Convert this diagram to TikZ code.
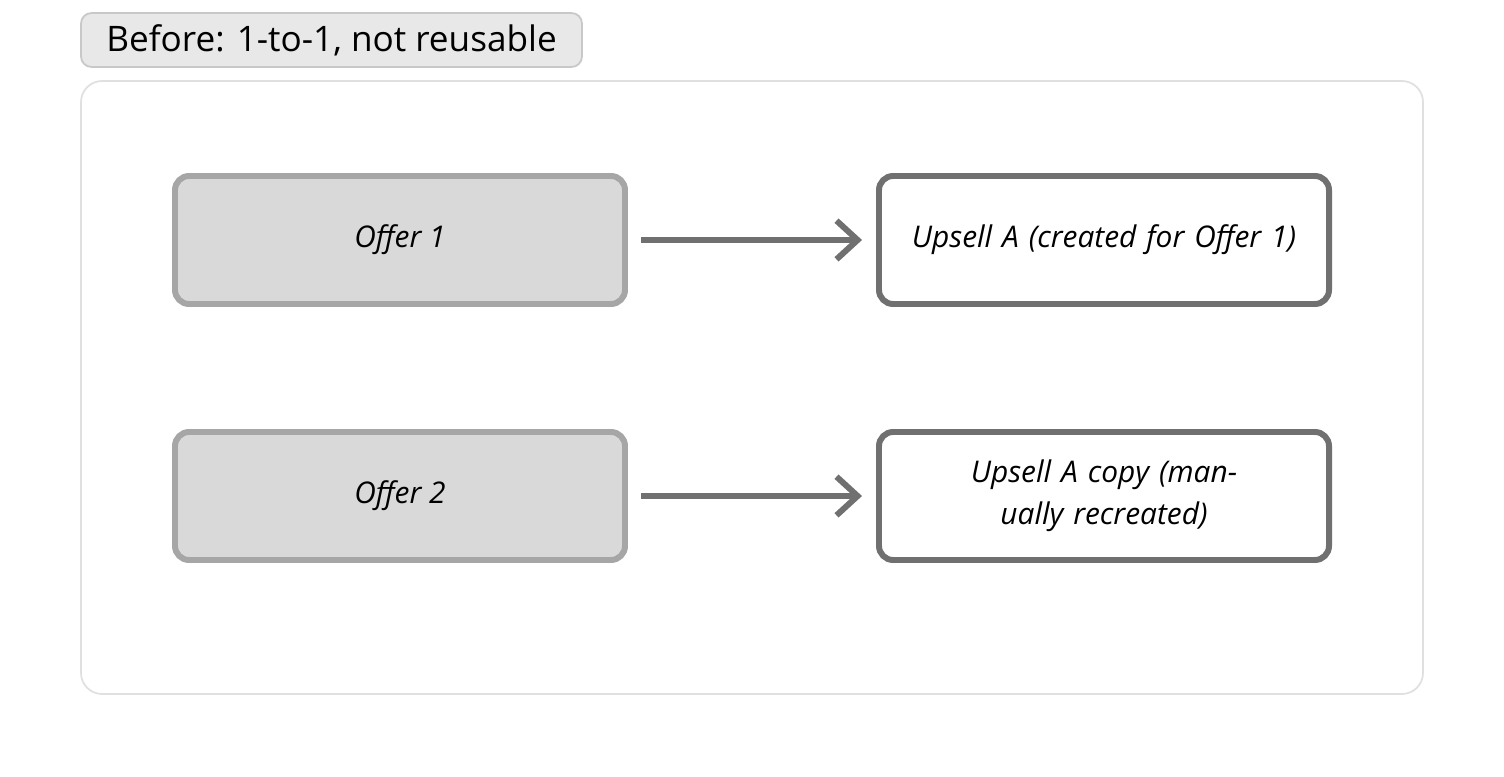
\documentclass[tikz,border=0pt]{standalone}
\usepackage{fontspec}
\setmainfont{Open Sans}
\usetikzlibrary{arrows.meta}
\definecolor{boxfill}{HTML}{D9D9D9}
\definecolor{boxline}{HTML}{A6A6A6}
\definecolor{darkline}{HTML}{707070}
\definecolor{framegray}{HTML}{E0E0E0}
\definecolor{tagfill}{HTML}{E8E8E8}
\definecolor{tagline}{HTML}{C8C8C8}

\begin{document}
\begin{tikzpicture}[
    offer/.style={draw=boxline, fill=boxfill, line width=3.4pt, rounded corners=8pt,
        minimum width=9cm, minimum height=2.56cm, font=\fontsize{17}{22}\selectfont\itshape},
    upsell/.style={draw=darkline, fill=white, line width=3.4pt, rounded corners=8pt,
        minimum width=9cm, minimum height=2.56cm, align=center, text width=8cm,
        font=\fontsize{17}{24}\selectfont\itshape},
    link/.style={draw=darkline, line width=3.4pt, -{Straight Barb[length=12pt,width=22pt,line width=3.4pt]},
        shorten <=0.26cm, shorten >=0.28cm}
]

    % Canvas
    \useasboundingbox (0,0) rectangle (30.08,15.52);

    % Frame and tag
    \draw[framegray, line width=1pt, rounded corners=12pt] (1.62,1.64) rectangle (28.46,13.9);
    \node[draw=tagline, fill=tagfill, rounded corners=6pt, line width=1pt,
        minimum width=10.02cm, minimum height=1.08cm, font=\fontsize{20}{24}\selectfont]
        (tag) at (6.63,14.72) {Before: 1-to-1, not reusable};

    % Offers
    \node[offer] (offer1) at (8.0,10.72) {Offer 1};
    \node[offer] (offer2) at (8.0,5.6) {Offer 2};

    % Upsells
    \node[upsell] (upsellA) at (22.08,10.72) {Upsell A (created for Offer 1)};
    \node[upsell] (upsellB) at (22.08,5.6) {Upsell A copy (manually recreated)};

    % Links
    \draw[link] (offer1) -- (upsellA);
    \draw[link] (offer2) -- (upsellB);

\end{tikzpicture}
\end{document}
